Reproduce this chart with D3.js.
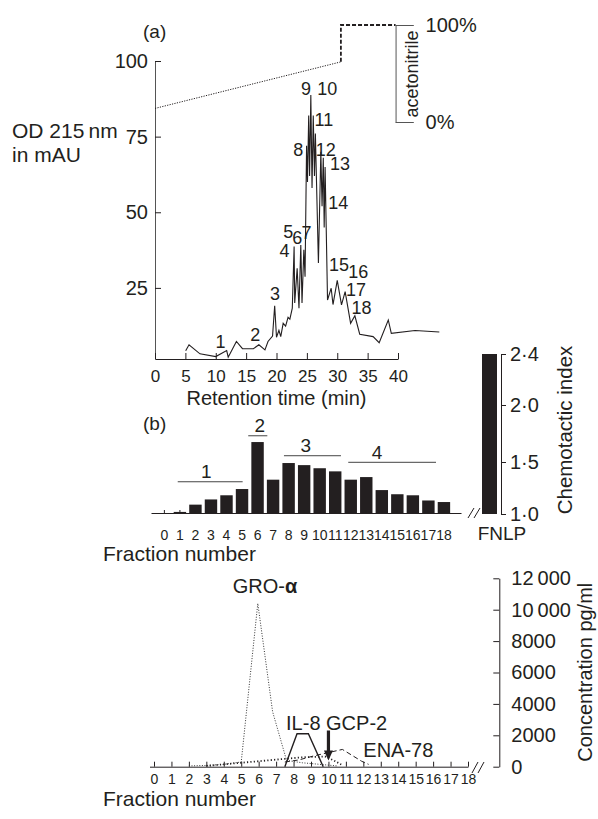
<!DOCTYPE html>
<html>
<head>
<meta charset="utf-8">
<script src="https://cdn.jsdelivr.net/npm/d3@7"></script>
<style>
body { margin: 0; background: #fff; }
svg { display: block; }
</style>
</head>
<body>
<svg id="chart" width="598" height="819"></svg>
<script>
const FONT = '"Liberation Sans", Arial, Helvetica, sans-serif';
const ink = "#231f20";

// (a) chromatogram: retention time (min) and OD 215 nm (mAU)
const rtTime = [5.05,5.6,7.4,10.0,11.8,12.05,13.4,14.4,16.2,17.1,18.1,18.6,19.35,19.7,20.0,20.4,20.7,21.1,21.5,21.9,22.2,22.6,22.9,23.0,23.4,23.7,24.0,24.2,24.5,24.7,24.95,25.1,25.3,25.45,25.65,25.85,26.05,26.25,26.4,26.9,27.3,27.5,27.7,27.85,28.0,28.4,29.0,29.3,30.0,30.7,31.3,32.2,32.9,33.7,35.9,36.9,38.4,38.9,42.8,46.8];
const rtOD = [4.2,6.2,3.2,2.3,4.3,2.1,7.3,4.9,4.9,6.2,4.5,7.3,9.1,19.1,8.7,11,8.9,13.3,12.4,15.3,14.7,18.3,38.7,20,31.5,18.3,39.2,20,37.6,28.7,72,60,82,62,88.8,58,82,62,76,33.2,70,52,68,45,65,21,24.9,19.5,27.5,19.4,23.8,13.3,15.8,9.7,8.9,6.9,14.4,10,10.9,10.4];
const odTicks = [25, 50, 75, 100];
const rtTicks = [0, 5, 10, 15, 20, 25, 30, 35, 40];

// peak (fraction) labels, placed in time / mAU units
const peakNames = ["1","2","3","4","5","6","7","8","9","10","11","12","13","14","15","16","17","18"];
const peakT = [10.8,16.5,19.75,21.3,21.95,23.4,24.95,23.6,24.85,28.35,27.8,28.1,30.45,30.15,30.3,33.45,33.1,34.0];
const peakV = [7.1,9.4,23.2,37.3,43.6,41.7,43.4,70.6,91,91,80.7,70.6,65.9,53,32.8,30.4,24.3,18.5];

// acetonitrile gradient (%)
const gradTime = [0, 30.6, 30.6, 39.6];
const gradPct = [14, 62, 100, 100];

// (b) chemotactic index per fraction
const fractions = d3.range(19);
const chemoIndex = [1.005,1.02,1.09,1.14,1.18,1.24,1.675,1.33,1.49,1.47,1.44,1.41,1.33,1.355,1.23,1.19,1.18,1.13,1.115];
const fnlpIndex = 2.4;
const indexTicks = [1.0, 1.5, 2.0, 2.4];
const groupNames = ["1", "2", "3", "4"];
const groupFrom = [0.86, 5.4, 7.7, 11.84];
const groupTo = [5.04, 6.63, 11.37, 17.49];
const groupLevel = [1.31, 1.73, 1.555, 1.497];
const groupLabelAt = [2.7, 6.15, 9.1, 13.7];

// (c) chemokine concentrations (pg/ml) per fraction
const groFrac = [2, 3, 4, 5, 5.95, 6.8, 7.6, 8.5, 9.5, 10.5];
const groConc = [50, 80, 150, 300, 10400, 3500, 400, 250, 150, 50];
const il8Frac = [7.5, 8.2, 8.85, 9.7];
const il8Conc = [0, 2100, 2100, 0];
const gcpFrac = [3, 5, 7, 8.5, 9.8, 10.3, 10.8];
const gcpConc = [50, 250, 450, 600, 650, 400, 100];
const enaFrac = [7.5, 8.3, 9.2, 10.8, 11.9, 12.3];
const enaConc = [300, 430, 700, 1100, 350, 150];
const concTicks = [0, 2000, 4000, 6000, 8000, 10000, 12000];

const svg = d3.select("#chart")
    .style("font-family", FONT)
    .style("fill", ink);

function label(x, y, txt, size, anchor) {
    return svg.append("text")
        .attr("x", x).attr("y", y)
        .attr("font-size", size)
        .attr("text-anchor", anchor || "start")
        .attr("fill", ink)
        .text(txt);
}

function styleAxis(g, size) {
    g.attr("font-family", FONT).attr("font-size", size).style("color", ink);
}

// ---------- panel (a) ----------
const xA = d3.scaleLinear().domain([0, 40]).range([155, 398]);
const yA = d3.scaleLinear().domain([1.5, 100]).range([359, 61]);
const yPct = d3.scaleLinear().domain([0, 100]).range([122, 25]);

svg.append("g")
    .attr("transform", `translate(${xA(0)},0)`)
    .call(d3.axisLeft(yA).tickValues(odTicks).tickSizeInner(-6).tickSizeOuter(0).tickPadding(7))
    .call(g => styleAxis(g, 20))
    .call(g => g.select(".domain").attr("stroke", "#555"));

svg.append("g")
    .attr("transform", `translate(0,${yA(1.5)})`)
    .call(d3.axisBottom(xA).tickValues(rtTicks).tickSizeInner(-6).tickSizeOuter(0).tickPadding(11))
    .call(g => styleAxis(g, 17));

// gradient
const gradPts = gradTime.map((t, i) => [xA(t), yPct(gradPct[i])]);
svg.append("path")
    .attr("d", d3.line()(gradPts.slice(0, 2)))
    .attr("fill", "none").attr("stroke", ink)
    .attr("stroke-width", 1).attr("stroke-dasharray", "1.2,1.3");
svg.append("path")
    .attr("d", d3.line()(gradPts.slice(1)))
    .attr("fill", "none").attr("stroke", ink)
    .attr("stroke-width", 1.8).attr("stroke-dasharray", "4,2");

svg.append("g")
    .attr("transform", `translate(${xA(39.6)},0)`)
    .call(d3.axisRight(yPct).tickValues([0, 100]).tickSize(18).tickPadding(12).tickFormat(d => d + "%"))
    .call(g => styleAxis(g, 20))
    .call(g => g.selectAll("path, line").attr("stroke", "#555"));

svg.append("text")
    .attr("transform", `translate(418,74) rotate(-90)`)
    .attr("font-size", 18).attr("text-anchor", "middle").attr("fill", ink)
    .text("acetonitrile");

// trace
svg.append("path")
    .datum(rtTime.map((t, i) => [t, rtOD[i]]))
    .attr("d", d3.line().x(d => xA(d[0])).y(d => yA(d[1])))
    .attr("fill", "none").attr("stroke", ink).attr("stroke-width", 1.1)
    .attr("stroke-linejoin", "miter");

svg.append("g").selectAll("text")
    .data(peakNames)
    .join("text")
    .attr("x", (d, i) => xA(peakT[i]))
    .attr("y", (d, i) => yA(peakV[i]))
    .attr("dy", "0.35em")
    .attr("text-anchor", "middle")
    .attr("font-size", 18).attr("fill", ink)
    .text(d => d);

label(143, 38, "(a)", 19);
label(12, 138, "OD 215\u2009nm", 21);
label(12, 162, "in mAU", 21);
label(xA(20), 405, "Retention time (min)", 20, "middle");

// ---------- panel (b) ----------
const xB = d3.scaleBand().domain(fractions).range([150.4, 457.9]).paddingInner(0.2).paddingOuter(0.5);
const xBc = d3.scaleLinear().domain([0, 18]).range([xB(0) + xB.bandwidth() / 2, xB(18) + xB.bandwidth() / 2]);
const yB = d3.scaleLinear().domain([1.0, 1.5, 2.0, 2.4]).range([514, 462, 405, 354]);

svg.append("g").selectAll("rect")
    .data(fractions)
    .join("rect")
    .attr("x", d => xB(d))
    .attr("width", xB.bandwidth())
    .attr("y", d => yB(chemoIndex[d]))
    .attr("height", d => yB(1) - yB(chemoIndex[d]))
    .attr("fill", ink);

svg.append("g")
    .attr("transform", `translate(0,${yB(1) - 1})`)
    .call(d3.axisBottom(xB).tickSizeInner(-3).tickSizeOuter(0).tickPadding(17))
    .call(g => styleAxis(g, 14))
    .call(g => g.select(".domain").attr("d", "M151.5,0.5H461.5"));

// FNLP bar on its own axis
const fnlpX = 482, fnlpW = 15;
svg.append("rect")
    .attr("x", fnlpX).attr("width", fnlpW)
    .attr("y", yB(fnlpIndex)).attr("height", yB(1) - yB(fnlpIndex))
    .attr("fill", ink);

svg.append("g")
    .attr("transform", `translate(501,0)`)
    .call(d3.axisRight(yB).tickValues(indexTicks).tickSize(5).tickSizeOuter(0).tickPadding(4)
        .tickFormat(d => d3.format(".1f")(d).replace(".", "\u00b7")))
    .call(g => styleAxis(g, 20));

// axis break marks
[[468, 518, 474, 508], [474, 518, 480, 508]].forEach(s => {
    svg.append("line").attr("x1", s[0]).attr("y1", s[1]).attr("x2", s[2]).attr("y2", s[3])
        .attr("stroke", ink).attr("stroke-width", 1);
});

label(502, 540, "FNLP", 19, "middle");
svg.append("text")
    .attr("transform", `translate(572,430) rotate(-90)`)
    .attr("font-size", 20.5).attr("text-anchor", "middle").attr("fill", ink)
    .text("Chemotactic index");

// fraction groups
groupNames.forEach((n, i) => {
    const y = yB(groupLevel[i]);
    svg.append("line")
        .attr("x1", xBc(groupFrom[i])).attr("x2", xBc(groupTo[i]))
        .attr("y1", y).attr("y2", y)
        .attr("stroke", "#444").attr("stroke-width", 1);
    label(xBc(groupLabelAt[i]), y - 3.5, n, 19, "middle");
});

label(143, 430, "(b)", 19);
label(103, 561, "Fraction number", 21);

// ---------- panel (c) ----------
const xC = d3.scaleLinear().domain([0, 18]).range([154, 468]);
const yC = d3.scaleLinear().domain([0, 12000]).range([766.7, 578.3]);

svg.append("g")
    .attr("transform", `translate(0,${yC(0)})`)
    .call(d3.axisBottom(xC).ticks(18).tickSizeInner(-5).tickSizeOuter(0).tickPadding(7).tickFormat(d3.format("d")))
    .call(g => styleAxis(g, 14))
    .call(g => g.select(".domain").attr("d", "M150,0.5H468.5"));

svg.append("g")
    .attr("transform", `translate(499.3,0)`)
    .call(d3.axisRight(yC).tickValues(concTicks).tickSizeInner(-6).tickSizeOuter(0).tickPadding(12)
        .tickFormat(d => d >= 10000 ? d3.format(",")(d).replace(",", "\u2009") : String(d)))
    .call(g => styleAxis(g, 20));

[[472, 773, 478, 762], [478, 773, 484, 762]].forEach(s => {
    svg.append("line").attr("x1", s[0]).attr("y1", s[1]).attr("x2", s[2]).attr("y2", s[3])
        .attr("stroke", ink).attr("stroke-width", 1);
});

const lineC = d3.line().x(d => xC(d[0])).y(d => yC(d[1]));
const series = [
    { f: groFrac, c: groConc, w: 1, dash: "1,1.6", col: "#333" },
    { f: gcpFrac, c: gcpConc, w: 1.8, dash: "1.2,2.2", col: ink },
    { f: enaFrac, c: enaConc, w: 1, dash: "5,3", col: ink },
    { f: il8Frac, c: il8Conc, w: 1.4, dash: null, col: ink }
];
series.forEach(s => {
    svg.append("path")
        .datum(s.f.map((f, i) => [f, s.c[i]]))
        .attr("d", lineC)
        .attr("fill", "none")
        .attr("stroke", s.col)
        .attr("stroke-width", s.w)
        .attr("stroke-dasharray", s.dash);
});

// arrow at fraction 10
const ax = xC(10), aTop = yC(2300), aTip = yC(400);
svg.append("path")
    .attr("d", `M${ax - 1.6},${aTop}H${ax + 1.6}V${aTip - 10}H${ax + 4.5}L${ax},${aTip}L${ax - 4.5},${aTip - 10}H${ax - 1.6}Z`)
    .attr("fill", ink);

const gro = label(xC(6.36), yC(11060), "GRO-", 20, "middle");
gro.append("tspan").attr("font-weight", "bold").text("\u03b1");
label(xC(7.57), yC(2340), "IL-8 GCP-2", 20);
label(xC(12.0), yC(640), "ENA-78", 20);

svg.append("text")
    .attr("transform", `translate(592,${yC(0) - 5}) rotate(-90)`)
    .attr("font-size", 20).attr("fill", ink)
    .text("Concentration pg/ml");

label(103, 806, "Fraction number", 21);
</script>
</body>
</html>
